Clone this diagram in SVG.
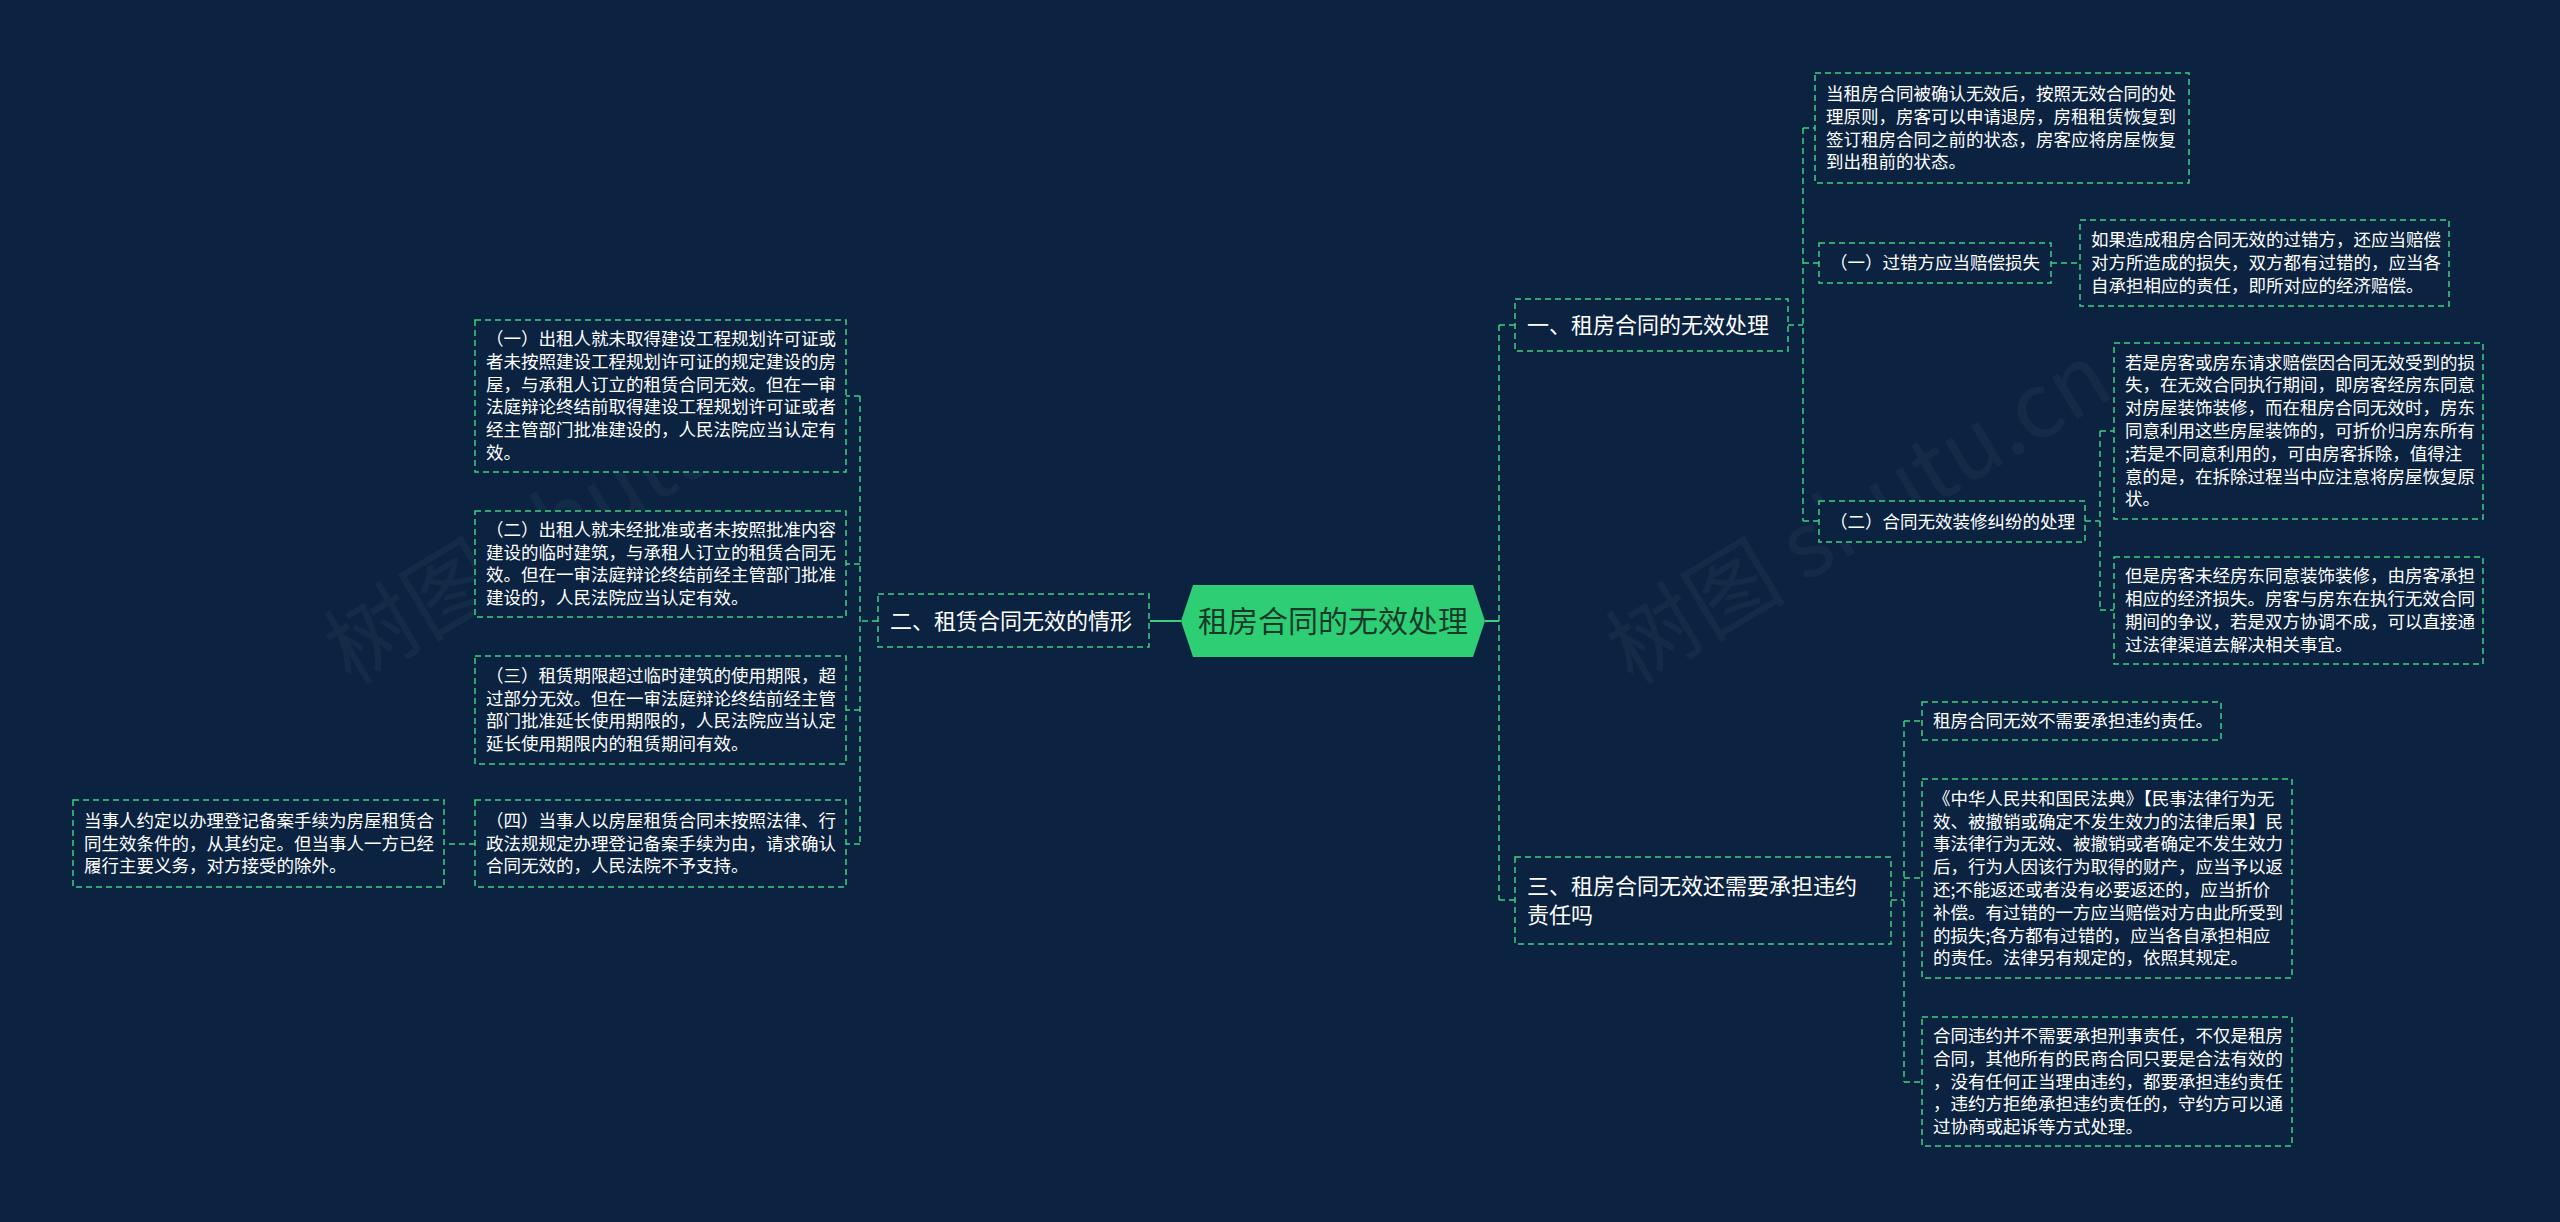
<svg xmlns="http://www.w3.org/2000/svg" width="2560" height="1222" viewBox="0 0 2560 1222">
<style>
.bg{fill:#0b2341}
.box{fill:#0b2341;stroke:#3fcf80;stroke-width:1.5;stroke-dasharray:6 4}
.t{font-family:"Noto Sans CJK SC","Microsoft YaHei",sans-serif;fill:#ffffff;font-size:17.5px}
.tm{font-family:"Noto Sans CJK SC","Microsoft YaHei",sans-serif;fill:#ffffff;font-size:22px}
.tc{font-family:"Noto Sans CJK SC","Microsoft YaHei",sans-serif;fill:#173a2b;font-size:30px}
.ln{fill:none;stroke:#3fcf80;stroke-width:1.5;stroke-dasharray:6 4}
.sl{fill:none;stroke:#3fcf80;stroke-width:2}
.wm{font-family:"Noto Sans CJK SC",sans-serif;fill:#ffffff;opacity:0.035;font-size:90px}
</style>
<rect class="bg" x="0" y="0" width="2560" height="1222"/>
<text class="wm" transform="translate(351,686) rotate(-31)">树图 shutu.cn</text>
<text class="wm" transform="translate(1633,686) rotate(-31)">树图 shutu.cn</text>

<g id="connectors">
  <path class="sl" d="M1150,621 H1181"/>
  <path class="sl" d="M1485,621 H1499"/>
  <path class="ln" d="M878,621 H860 M860,396 V844 M860,396 H846 M860,564 H846 M860,710 H846 M860,844 H846 M475,844 H444"/>
  <path class="ln" d="M1499,325 V900 M1499,325 H1515 M1499,900 H1515"/>
  <path class="ln" d="M1788,325 H1803 M1803,128 V521 M1803,128 H1815 M1803,263 H1819 M1803,521 H1819 M2051,263 H2080"/>
  <path class="ln" d="M2085,521 H2100 M2100,431 V610 M2100,431 H2114 M2100,610 H2114"/>
  <path class="ln" d="M1891,900 H1904 M1904,721 V1082 M1904,721 H1922 M1904,878 H1922 M1904,1082 H1922"/>
</g>

<g id="root">
  <polygon points="1181,621 1193,585 1473,585 1485,621 1473,657 1193,657" fill="#2ecf74"/>
  <text class="tc" x="1333" y="632" text-anchor="middle">租房合同的无效处理</text>
</g>

<g id="n1">
  <rect class="box" x="1515" y="299" width="273" height="52"/>
  <text class="tm" x="1527" y="333">一、租房合同的无效处理</text>
</g>
<g id="n1a">
  <rect class="box" x="1815" y="73" width="374" height="110"/>
  <text class="t" x="1826" y="100"><tspan x="1826">当租房合同被确认无效后，按照无效合同的处</tspan><tspan x="1826" dy="22.8">理原则，房客可以申请退房，房租租赁恢复到</tspan><tspan x="1826" dy="22.8">签订租房合同之前的状态，房客应将房屋恢复</tspan><tspan x="1826" dy="22.8">到出租前的状态。</tspan></text>
</g>
<g id="n1b">
  <rect class="box" x="1819" y="243" width="232" height="40"/>
  <text class="t" x="1830" y="269">（一）过错方应当赔偿损失</text>
</g>
<g id="n1b1">
  <rect class="box" x="2080" y="220" width="369" height="86"/>
  <text class="t" x="2091" y="246"><tspan x="2091">如果造成租房合同无效的过错方，还应当赔偿</tspan><tspan x="2091" dy="22.8">对方所造成的损失，双方都有过错的，应当各</tspan><tspan x="2091" dy="22.8">自承担相应的责任，即所对应的经济赔偿。</tspan></text>
</g>
<g id="n1c">
  <rect class="box" x="1819" y="501" width="266" height="41"/>
  <text class="t" x="1830" y="527.5">（二）合同无效装修纠纷的处理</text>
</g>
<g id="n1c1">
  <rect class="box" x="2114" y="343" width="369" height="176"/>
  <text class="t" x="2125" y="368.6"><tspan x="2125">若是房客或房东请求赔偿因合同无效受到的损</tspan><tspan x="2125" dy="22.8">失，在无效合同执行期间，即房客经房东同意</tspan><tspan x="2125" dy="22.8">对房屋装饰装修，而在租房合同无效时，房东</tspan><tspan x="2125" dy="22.8">同意利用这些房屋装饰的，可折价归房东所有</tspan><tspan x="2125" dy="22.8">;若是不同意利用的，可由房客拆除，值得注</tspan><tspan x="2125" dy="22.8">意的是，在拆除过程当中应注意将房屋恢复原</tspan><tspan x="2125" dy="22.8">状。</tspan></text>
</g>
<g id="n1c2">
  <rect class="box" x="2114" y="557" width="369" height="107"/>
  <text class="t" x="2125" y="582.3"><tspan x="2125">但是房客未经房东同意装饰装修，由房客承担</tspan><tspan x="2125" dy="22.8">相应的经济损失。房客与房东在执行无效合同</tspan><tspan x="2125" dy="22.8">期间的争议，若是双方协调不成，可以直接通</tspan><tspan x="2125" dy="22.8">过法律渠道去解决相关事宜。</tspan></text>
</g>

<g id="n3">
  <rect class="box" x="1515" y="857" width="376" height="87"/>
  <text class="tm" x="1527" y="894"><tspan x="1527">三、租房合同无效还需要承担违约</tspan><tspan x="1527" dy="29">责任吗</tspan></text>
</g>
<g id="n3a">
  <rect class="box" x="1922" y="702" width="299" height="38"/>
  <text class="t" x="1933" y="727">租房合同无效不需要承担违约责任。</text>
</g>
<g id="n3b">
  <rect class="box" x="1922" y="779" width="370" height="199"/>
  <text class="t" x="1933" y="804.7"><tspan x="1933">《中华人民共和国民法典》【民事法律行为无</tspan><tspan x="1933" dy="22.8">效、被撤销或确定不发生效力的法律后果】民</tspan><tspan x="1933" dy="22.8">事法律行为无效、被撤销或者确定不发生效力</tspan><tspan x="1933" dy="22.8">后，行为人因该行为取得的财产，应当予以返</tspan><tspan x="1933" dy="22.8">还;不能返还或者没有必要返还的，应当折价</tspan><tspan x="1933" dy="22.8">补偿。有过错的一方应当赔偿对方由此所受到</tspan><tspan x="1933" dy="22.8">的损失;各方都有过错的，应当各自承担相应</tspan><tspan x="1933" dy="22.8">的责任。法律另有规定的，依照其规定。</tspan></text>
</g>
<g id="n3c">
  <rect class="box" x="1922" y="1017" width="370" height="129"/>
  <text class="t" x="1933" y="1041.9"><tspan x="1933">合同违约并不需要承担刑事责任，不仅是租房</tspan><tspan x="1933" dy="22.8">合同，其他所有的民商合同只要是合法有效的</tspan><tspan x="1933" dy="22.8">，没有任何正当理由违约，都要承担违约责任</tspan><tspan x="1933" dy="22.8">，违约方拒绝承担违约责任的，守约方可以通</tspan><tspan x="1933" dy="22.8">过协商或起诉等方式处理。</tspan></text>
</g>

<g id="n2">
  <rect class="box" x="878" y="594" width="271" height="53"/>
  <text class="tm" x="890" y="628.5">二、租赁合同无效的情形</text>
</g>
<g id="n2a">
  <rect class="box" x="475" y="320" width="371" height="152"/>
  <text class="t" x="486" y="345"><tspan x="486">（一）出租人就未取得建设工程规划许可证或</tspan><tspan x="486" dy="22.8">者未按照建设工程规划许可证的规定建设的房</tspan><tspan x="486" dy="22.8">屋，与承租人订立的租赁合同无效。但在一审</tspan><tspan x="486" dy="22.8">法庭辩论终结前取得建设工程规划许可证或者</tspan><tspan x="486" dy="22.8">经主管部门批准建设的，人民法院应当认定有</tspan><tspan x="486" dy="22.8">效。</tspan></text>
</g>
<g id="n2b">
  <rect class="box" x="475" y="511" width="371" height="106"/>
  <text class="t" x="486" y="535.8"><tspan x="486">（二）出租人就未经批准或者未按照批准内容</tspan><tspan x="486" dy="22.8">建设的临时建筑，与承租人订立的租赁合同无</tspan><tspan x="486" dy="22.8">效。但在一审法庭辩论终结前经主管部门批准</tspan><tspan x="486" dy="22.8">建设的，人民法院应当认定有效。</tspan></text>
</g>
<g id="n2c">
  <rect class="box" x="475" y="656" width="371" height="108"/>
  <text class="t" x="486" y="681.8"><tspan x="486">（三）租赁期限超过临时建筑的使用期限，超</tspan><tspan x="486" dy="22.8">过部分无效。但在一审法庭辩论终结前经主管</tspan><tspan x="486" dy="22.8">部门批准延长使用期限的，人民法院应当认定</tspan><tspan x="486" dy="22.8">延长使用期限内的租赁期间有效。</tspan></text>
</g>
<g id="n2d">
  <rect class="box" x="475" y="800" width="371" height="87"/>
  <text class="t" x="486" y="826.7"><tspan x="486">（四）当事人以房屋租赁合同未按照法律、行</tspan><tspan x="486" dy="22.8">政法规规定办理登记备案手续为由，请求确认</tspan><tspan x="486" dy="22.8">合同无效的，人民法院不予支持。</tspan></text>
</g>
<g id="n2d1">
  <rect class="box" x="73" y="800" width="371" height="87"/>
  <text class="t" x="84" y="826.7"><tspan x="84">当事人约定以办理登记备案手续为房屋租赁合</tspan><tspan x="84" dy="22.8">同生效条件的，从其约定。但当事人一方已经</tspan><tspan x="84" dy="22.8">履行主要义务，对方接受的除外。</tspan></text>
</g>
</svg>
